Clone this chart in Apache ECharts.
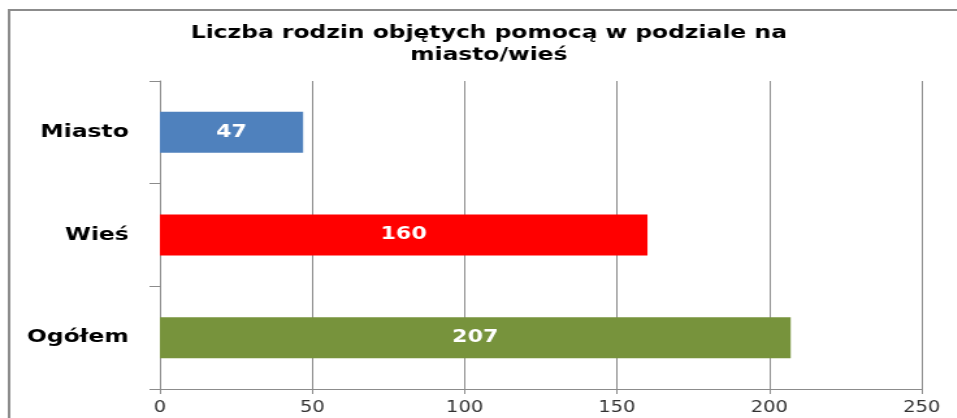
<!DOCTYPE html>
<html>
<head>
<meta charset="utf-8">
<script src="https://cdn.jsdelivr.net/npm/echarts@6/dist/echarts.min.js"></script>
<style>
html,body{margin:0;padding:0;background:#fff;overflow:hidden;}
#wrap{width:957px;height:418px;overflow:hidden;position:relative;}
#chart{width:736px;height:418px;transform:scaleX(1.3);transform-origin:0 0;}
</style>
</head>
<body>
<div id="wrap"><div id="chart"></div></div>
<script>
const categories = ['Miasto', 'Wieś', 'Ogółem'];
const values = [47, 160, 207];
const barColors = ['#4F81BD', '#FF0000', '#77933C'];
const xTicks = [0, 50, 100, 150, 200, 250];
const titleText = 'Liczba rodzin objętych pomocą w podziale na\nmiasto/wieś';

const chart = echarts.init(document.getElementById('chart'), null, {renderer: 'canvas'});
const font = 'DejaVu Sans';
chart.setOption({
  animation: false,
  backgroundColor: '#fff',
  graphic: [{
    type: 'rect',
    shape: {x: 7, y: 10, width: 760, height: 430},
    style: {fill: 'none', stroke: '#8c8c8c', lineWidth: 2},
    silent: true
  }, {
    type: 'text',
    x: 376,
    y: 22,
    silent: true,
    style: {
      text: titleText,
      align: 'center',
      verticalAlign: 'top',
      font: 'bold 18px "DejaVu Sans"',
      lineHeight: 22,
      fill: '#000'
    }
  }],
  grid: {left: 123, right: 27, top: 81, bottom: 29, containLabel: false},
  xAxis: {
    type: 'value',
    min: xTicks[0],
    max: xTicks[xTicks.length - 1],
    interval: 50,
    axisLine: {show: true, lineStyle: {color: '#8c8c8c', width: 1}},
    axisTick: {show: true, length: 5, lineStyle: {color: '#8c8c8c'}},
    splitLine: {show: true, lineStyle: {color: '#8c8c8c', width: 1}},
    axisLabel: {fontFamily: font, fontSize: 15, color: '#333', margin: 12}
  },
  yAxis: {
    type: 'category',
    data: categories,
    inverse: true,
    axisLine: {show: true, lineStyle: {color: '#8c8c8c', width: 1}},
    axisTick: {show: true, length: 8, lineStyle: {color: '#8c8c8c'}},
    splitLine: {show: false},
    axisLabel: {fontFamily: font, fontSize: 18, fontWeight: 'bold', color: '#000', margin: 24}
  },
  series: [{
    type: 'bar',
    barWidth: '40%',
    data: values.map((v, i) => ({value: v, itemStyle: {color: barColors[i]}})),
    label: {
      show: true,
      position: 'inside',
      fontFamily: font,
      fontSize: 17,
      fontWeight: 'bold',
      color: '#fff'
    }
  }]
});
</script>
</body>
</html>
